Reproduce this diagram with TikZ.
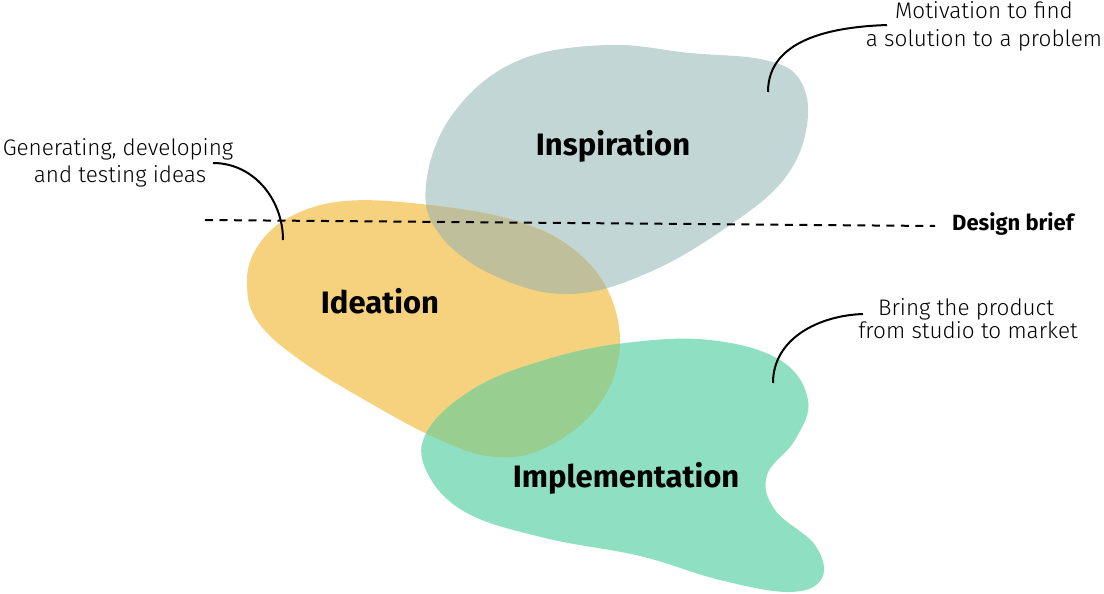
\documentclass[tikz,border=0pt]{standalone}
\usepackage{fontspec}
\setmainfont{Fira Sans}
\newfontfamily\lightfont{Fira Sans Light}
\definecolor{insp}{HTML}{C3D6D6}
\definecolor{idea}{HTML}{F7D27E}
\definecolor{impl}{HTML}{8FE0C3}
\definecolor{ideainsp}{HTML}{BFBF9B}
\definecolor{ideaimpl}{HTML}{98CF90}
\def\inspPath{plot[smooth cycle, tension=0.65] coordinates {(426,185) (452,115) (515,62) (605,45) (690,53) (765,60) (800,80) (807,125) (785,178) (730,225) (650,272) (570,294) (495,276) (440,235)}}
\def\ideaPath{plot[smooth cycle, tension=0.65] coordinates {(345,201) (430,205) (513,220) (572,248) (610,295) (619,355) (595,410) (545,448) (495,457) (440,440) (370,403) (300,360) (258,322) (247,285) (256,249) (288,218)}}
\def\implPath{plot[smooth cycle, tension=0.65] coordinates {(428,430) (475,388) (545,360) (625,343) (710,340) (780,360) (808,400) (795,440) (767,475) (775,510) (815,545) (822,578) (790,592) (720,580) (640,556) (545,538) (465,512) (426,470)}}
\tikzset{
  biglabel/.style={anchor=base, inner sep=0pt, font=\fontsize{31}{35}\selectfont\bfseries},
  note/.style={anchor=base, inner sep=0pt, font=\lightfont\fontsize{22.5}{26}\selectfont},
  conn/.style={line width=2pt, black},
  brief/.style={line width=2pt, black, dash pattern=on 8pt off 6.5pt}
}
\begin{document}
\begin{tikzpicture}[x=1pt,y=-1pt]
\useasboundingbox (0,0) rectangle (1104,594);
\fill[insp] \inspPath;
\fill[idea] \ideaPath;
\fill[impl] \implPath;
\begin{scope}
  \clip \ideaPath;
  \fill[ideainsp] \inspPath;
\end{scope}
\begin{scope}
  \clip \ideaPath;
  \fill[ideaimpl] \implPath;
\end{scope}
% design brief line
\coordinate (d1) at (205,220);
\coordinate (d2) at (935,226);
\draw[brief] (d1) -- (d2);
\node[anchor=base west, inner sep=0pt, font=\fontsize{22}{25}\selectfont\bfseries] (db) at (952,230) {Design brief};
% labels
\node[biglabel] (inspiration) at (613,155) {Inspiration};
\node[biglabel] (ideation) at (380,313) {Ideation};
\node[biglabel] (implementation) at (626,487) {Implementation};
% notes
\node[note] (mot1) at (984,19) {Motivation to find};
\node[note] (mot2) at (984,47) {a solution to a problem};
\node[note] (gen1) at (118,155) {Generating, developing};
\node[note] (gen2) at (120,182) {and testing ideas};
\node[note] (bri1) at (966,315) {Bring the product};
\node[note] (bri2) at (968,338) {from studio to market};
% connectors
\coordinate (m1) at (887,25);
\coordinate (m2) at (768,92);
\draw[conn] (m1) to[out=182,in=90] (m2);
\coordinate (g1) at (213,163);
\coordinate (g2) at (283,240);
\draw[conn] (g1) to[out=0,in=90] (g2);
\coordinate (b1) at (863,314);
\coordinate (b2) at (773,383);
\draw[conn] (b1) to[out=182,in=90] (b2);
\end{tikzpicture}
\end{document}
